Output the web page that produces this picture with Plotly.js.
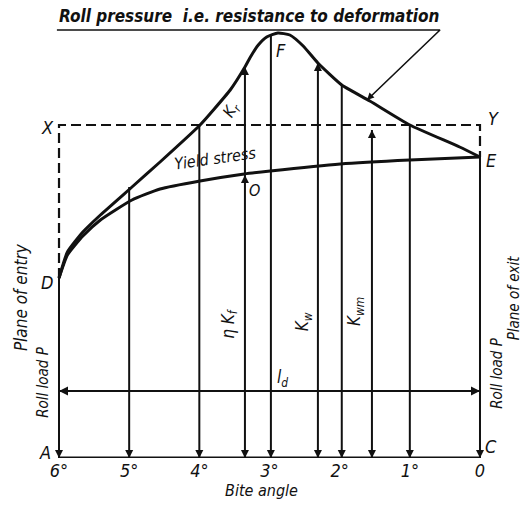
<!DOCTYPE html>
<html><head><meta charset="utf-8">
<script src="https://cdn.plot.ly/plotly-3.0.1.min.js"></script>
<style>html,body{margin:0;padding:0;background:#fff}#chart{width:523px;height:507px}</style>
</head><body><div id="chart"></div>
<script>
// Bite angle (degrees) and relative pressure level (AC line = 0)
const rollAngle = [6.00, 5.88, 5.66, 5.41, 4.96, 4.56, 3.99, 3.80, 3.56, 3.35, 3.28, 3.16, 3.04, 2.88, 2.71, 2.52, 2.31, 1.97, 1.57, 1.00, 0.29, 0.00];
const rollValue = [180, 206, 226, 243, 271, 296, 333, 348, 368, 391, 400, 413, 421, 425, 423, 412, 395, 373, 357, 333, 311, 301];
const yieldAngle = [6.00, 5.88, 5.66, 5.41, 4.96, 4.56, 3.99, 3.36, 2.99, 1.99, 1.00, 0.00];
const yieldValue = [180, 203, 222, 238, 258, 269, 277, 284, 287, 294, 298, 301];
const lineAngle = [6, 5, 4, 3.35, 2.98, 2.31, 1.97, 1.54, 1.00, 0];
const lineTop = [180, 271, 333, 391, 422, 395, 373, 328, 333, 301];
const upArrowAngle = [3.35, 2.31, 1.54, 3.35];
const upArrowValue = [391, 395, 328, 283];
const meanLevel = 333;      // X - Y
const entryValue = 180;     // D
const exitValue = 301;      // E
const ldLevel = 67;         // l_d
const pointerAngle = [6.03, 0.57, 1.61];
const pointerValue = [428, 428, 358];
const tickAngles = [6, 5, 4, 3, 2, 1, 0];
const tickLabels = ['6°', '5°', '4°', '3°', '2°', '1°', '0'];

const F = '"DejaVu Sans Condensed", "DejaVu Sans", sans-serif';
const K = '#111';

const vx = [], vy = [];
lineAngle.forEach((a, i) => { vx.push(a, a, null); vy.push(0, lineTop[i], null); });

const base = {type: 'scatter', hoverinfo: 'skip', showlegend: false, cliponaxis: false};
const traces = [
  Object.assign({}, base, {x: [6, 0], y: [0, 0], mode: 'lines', line: {color: K, width: 3}}),
  Object.assign({}, base, {x: vx, y: vy, mode: 'lines', line: {color: K, width: 2}}),
  Object.assign({}, base, {x: [6, 6, 0, 0], y: [entryValue, meanLevel, meanLevel, exitValue], mode: 'lines', line: {color: K, width: 2.2, dash: '10px,5px'}}),
  Object.assign({}, base, {x: yieldAngle, y: yieldValue, mode: 'lines', line: {color: K, width: 3, shape: 'spline', smoothing: 0.5}}),
  Object.assign({}, base, {x: rollAngle, y: rollValue, mode: 'lines', line: {color: K, width: 3, shape: 'spline', smoothing: 0.5}}),
  Object.assign({}, base, {x: [6, 0], y: [ldLevel, ldLevel], mode: 'lines+markers', line: {color: K, width: 2},
    marker: {symbol: ['arrow-left', 'arrow-right'], size: 9, color: K}}),
  Object.assign({}, base, {x: lineAngle, y: lineAngle.map(() => 0), mode: 'markers', marker: {symbol: 'arrow-down', size: 8, color: K}}),
  Object.assign({}, base, {x: upArrowAngle, y: upArrowValue, mode: 'markers', marker: {symbol: 'arrow-up', size: 8, color: K}}),
  Object.assign({}, base, {x: pointerAngle, y: pointerValue, mode: 'lines', line: {color: K, width: 1.6}}),
  Object.assign({}, base, {x: [pointerAngle[2]], y: [pointerValue[2]], mode: 'markers', marker: {symbol: 'arrow-up', angle: 225, size: 7, color: K}})
];

function lab(text, x, y, size, angle, extra) {
  return Object.assign({text: text, x: x, y: y, xref: 'x', yref: 'y', showarrow: false,
    textangle: angle || 0, font: {family: F, size: size, color: K, style: 'italic'}}, extra || {});
}

const annotations = [
  lab('<b>Roll pressure  i.e. resistance to deformation</b>', 6.03, 430, 17, 0, {xanchor: 'left', yanchor: 'bottom'}),
  lab('X', 6.17, 331, 18), lab('Y', -0.19, 340, 18), lab('E', -0.17, 298, 18),
  lab('D', 6.17, 176, 18), lab('A', 6.2, 6, 18), lab('C', -0.16, 12, 18),
  lab('F', 2.84, 408, 18),
  lab('K<sub>r</sub>', 3.55, 348, 16, -60),
  lab('Yield stress', 3.78, 300, 16, -8),
  lab('O', 3.21, 268, 16),
  lab('η K<sub>f</sub>', 3.58, 135, 17, -90),
  lab('K<sub>w</sub>', 2.52, 136, 17, -90),
  lab('K<sub>wm</sub>', 1.78, 146, 17, -90),
  lab('l<sub>d</sub>', 2.82, 80, 17),
  lab('Plane of entry', 6.54, 161, 17, -90),
  lab('Roll load P', 6.23, 76, 15, -90),
  lab('Roll load P', -0.24, 85, 15, -90),
  lab('Plane of exit', -0.49, 160, 15, -90)
];

const layout = {
  width: 523, height: 507,
  margin: {l: 0, r: 0, t: 0, b: 49},
  paper_bgcolor: '#fff', plot_bgcolor: '#fff',
  xaxis: {range: [6.841, -0.613], showgrid: false, zeroline: false, showline: false,
    tickvals: tickAngles, ticktext: tickLabels, ticks: '',
    tickfont: {family: F, size: 18, color: K, style: 'italic'},
    title: {text: 'Bite angle', font: {family: F, size: 16, color: K, style: 'italic'}, standoff: 2}},
  yaxis: {range: [0, 458], visible: false, showgrid: false, zeroline: false},
  annotations: annotations
};

Plotly.newPlot('chart', traces, layout, {displayModeBar: false, staticPlot: true});
</script></body></html>
